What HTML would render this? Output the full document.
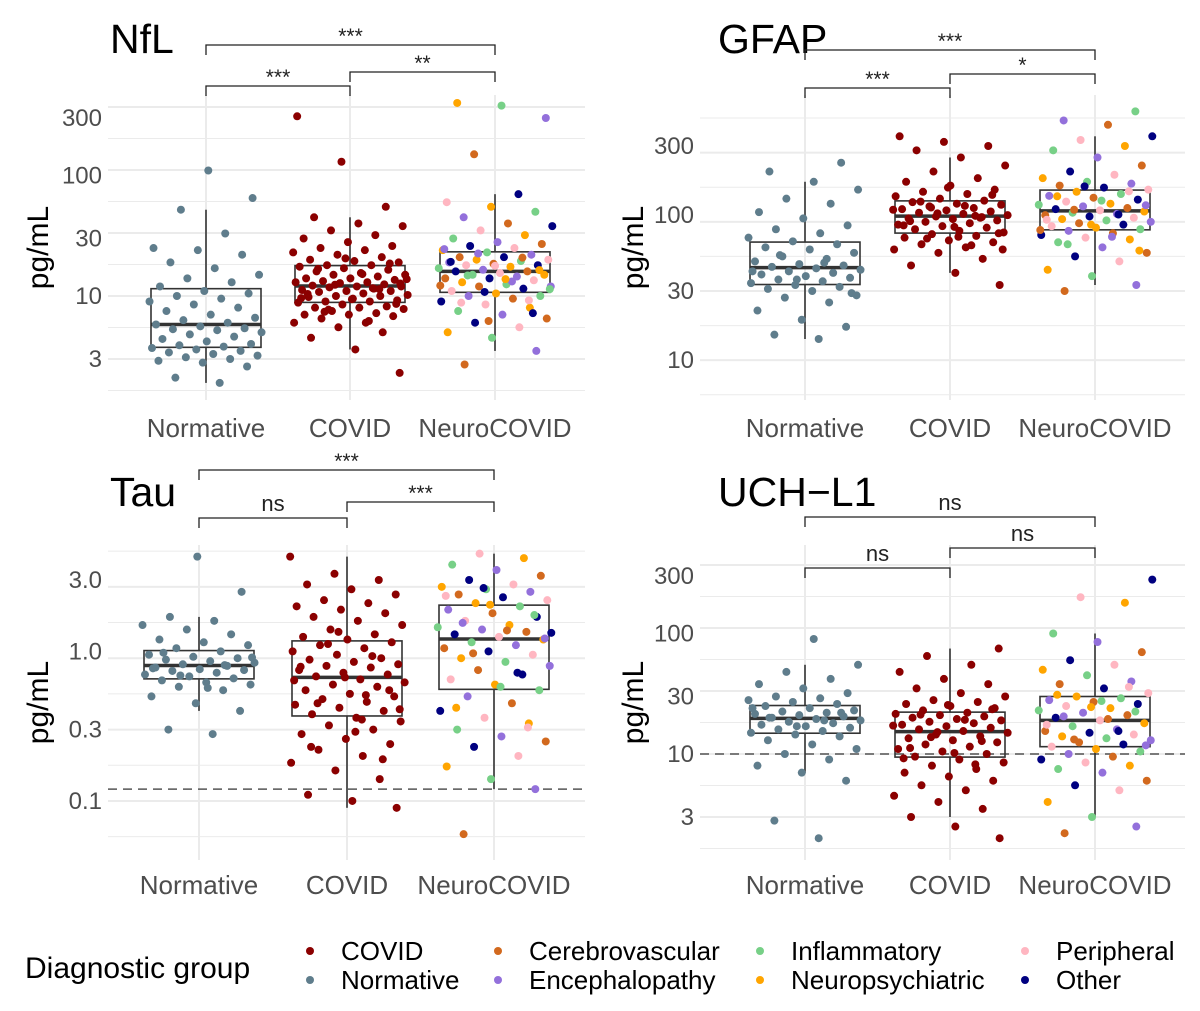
<!DOCTYPE html>
<html><head><meta charset="utf-8"><style>
body{margin:0;background:#fff}
svg{display:block;font-family:"Liberation Sans",Arial,sans-serif}
</style></head><body>
<svg id="chart" width="1200" height="1011" viewBox="0 0 1200 1011" xmlns="http://www.w3.org/2000/svg">
<g id="legend">
<text x="25" y="978" font-size="30" fill="#000">Diagnostic group</text>
</g>
</svg>
<script>
const categories = ['Normative','COVID','NeuroCOVID'];
const neuroGroups = ['Cerebrovascular','Encephalopathy','Inflammatory','Neuropsychiatric','Peripheral','Other'];
const legendEntries = ['COVID','Normative','Cerebrovascular','Encephalopathy','Inflammatory','Neuropsychiatric','Peripheral','Other'];
const colors = {COVID:'#8B0000',Normative:'#5F7D8C',Cerebrovascular:'#D2691E',Encephalopathy:'#9370DB',Inflammatory:'#77D087',Neuropsychiatric:'#FFA500',Peripheral:'#FFB6C1',Other:'#000080'};

const nflTicks = [3,10,30,100,300];
const nflTickLabels = ['3','10','30','100','300'];
const nflNormative = [1.9,2.1,2.6,2.8,2.9,3,3.1,3.2,3.3,3.4,3.5,3.6,3.7,3.8,3.9,4,4.2,4.4,4.6,4.8,5,5.2,5.3,5.4,5.6,5.8,6,6.3,6.6,7,7.5,8,8.5,9,9.5,10,10.5,11,12,13,14,15,17,19,22,24,25,33,52,65,110];
const nflCovid = [2.3,3.6,4.5,5,5.5,6,6,6.5,6.8,7,7,7.2,7.5,7.8,8,8,8.2,8.5,8.8,9,9,9.2,9.5,9.8,10,10,10.2,10.5,10.8,11,11,11.2,11.5,11.8,12,12,12.2,12.5,12.8,13,13,13.3,13.6,14,14,14.5,15,15,15.5,16,16.5,17,17.5,18,18,19,19.5,20,21,22,23,24,25,26,28,30,32,35,38,40,45,55,130,310,6.2,7.4,8.6,9.4,10.4,11.4,12.4,13.8,15.2,16.8,18.6,20.5,9.6,11.6,7.7,12.7];
const nflNeuro = [2.7,3.5,4.5,5,5.5,6,6.5,7,7.5,8,8.5,9,9.5,10,10,10.5,11,11.5,12,12,12.5,13,13.5,14,14,14.5,15,15,15.5,16,16,16.5,17,17.5,18,18,18.5,19,19.5,20,20,21,21,22,23,24,25,26,27,28,30,32,35,38,40,45,50,55,60,70,150,300,380,400,9.2,10.8,12.2,13.2,14.8,16.4,17.8,19.2,20.8,22.5,11.4,13.8,8.8,7.2,6.2,24.5];

const gfapTicks = [10,30,100,300];
const gfapTickLabels = ['10','30','100','300'];
const gfapNormative = [14,15,17,19,22,25,27,28,30,31,32,33,34,35,36,37,38,39,40,41,42,43,44,45,46,48,50,52,55,58,60,63,66,70,75,80,85,95,105,120,130,150,170,200,230,36,41,47,53,29];
const gfapCovid = [33,40,45,50,55,58,60,63,65,67,70,72,74,76,78,80,82,84,86,88,90,92,94,95,96,98,100,102,104,106,108,110,112,115,118,120,123,126,130,135,140,145,150,160,170,180,200,220,250,280,300,320,350,62,69,75,83,91,97,103,109,116,124,138,155,85,99,113,58,71];
const gfapNeuro = [30,33,38,42,48,52,55,60,65,68,70,73,75,78,80,82,84,86,88,90,92,94,96,98,100,102,104,106,108,110,112,115,118,120,124,128,132,136,140,145,150,155,160,165,170,180,190,200,220,250,280,300,330,350,420,450,520,86,93,101,109,117,126,135,146,158,79,71,63,57];

const tauTicks = [0.1,0.3,1,3];
const tauTickLabels = ['0.1','0.3','1.0','3.0'];
const tauNormative = [0.28,0.3,0.4,0.45,0.5,0.55,0.58,0.6,0.62,0.64,0.66,0.68,0.7,0.72,0.74,0.75,0.76,0.78,0.8,0.82,0.84,0.86,0.88,0.9,0.92,0.95,1,1.05,1.1,1.15,1.2,1.3,1.4,1.5,1.6,1.7,2.5,4.3,0.77,0.81,0.69,0.91,0.57,0.98];
const tauCovid = [0.09,0.1,0.11,0.14,0.16,0.18,0.2,0.22,0.24,0.26,0.28,0.3,0.32,0.34,0.36,0.38,0.4,0.42,0.44,0.46,0.48,0.5,0.52,0.55,0.58,0.6,0.62,0.65,0.68,0.7,0.72,0.75,0.78,0.8,0.82,0.85,0.88,0.9,0.95,1,1.05,1.1,1.15,1.2,1.25,1.3,1.4,1.5,1.6,1.7,1.8,1.9,2,2.1,2.2,2.4,2.6,2.8,3,3.3,4.3,0.35,0.45,0.55,0.67,0.79,0.93,1.12,0.41,0.29,0.23,0.19,1.35,0.64,0.51];
const tauNeuro = [0.06,0.12,0.14,0.17,0.2,0.23,0.25,0.27,0.3,0.33,0.36,0.4,0.45,0.5,0.55,0.6,0.65,0.7,0.75,0.8,0.85,0.9,0.95,1,1.05,1.1,1.15,1.2,1.25,1.3,1.35,1.4,1.45,1.5,1.6,1.7,1.8,1.9,2,2.1,2.2,2.3,2.4,2.5,2.6,2.7,2.8,3,3.2,3.5,3.8,4.2,4.5,1.33,1.38,1.55,1.75,2.05,2.35,0.72,0.97,1.22,0.58,0.42,0.31,2.65];

const uchTicks = [3,10,30,100,300];
const uchTickLabels = ['3','10','30','100','300'];
const uchNormative = [2,2.8,6,7,8,9,10,11,12,13,14,14.5,15,15.5,16,16.5,17,17.5,18,18.5,19,19.5,20,20.5,21,21.5,22,22.5,23,24,25,26,27,28,29,30,32,35,38,42,48,55,90,20,22,17,24,19];
const uchCovid = [2,2.5,3,3.5,4,4.5,5,5.5,6,6.5,7,7.5,8,8.5,9,9.5,10,10.5,11,11.5,12,12.5,13,13.5,14,14.5,15,15.5,16,16.5,17,17.5,18,18.5,19,19.5,20,20.5,21,21.5,22,23,24,25,26,27,28,30,32,35,38,42,48,55,65,75,10.2,11.2,12.8,15.2,17.2,19.2,21.2,23.5,25.5,9.2,8.2,13.8];
const uchNeuro = [2.2,2.5,3,4,5,5.5,6,7,7.5,8,8.5,9,9.5,10,10.5,11,11.5,12,12.5,13,13.5,14,14.5,15,15.5,16,17,18,19,20,21,22,23,24,25,26,27,28,29,30,32,35,38,40,45,50,55,60,70,85,100,180,200,280,19.5,20.5,22.5,24.5,17.5,15.5,13.2,11.8,27.5,31,36];

const nflSig = ['***','***','**'];
const gfapSig = ['***','***','*'];
const tauSig = ['***','ns','***'];
const uchSig = ['ns','ns','ns'];

const NS='http://www.w3.org/2000/svg';
const svg=document.getElementById('chart');
function mk(tag,attrs,parent){const e=document.createElementNS(NS,tag);for(const k in attrs)e.setAttribute(k,attrs[k]);(parent||svg).appendChild(e);return e;}

const panels=[
 {key:'nfl',title:'NfL',titleX:110,titleY:53,x0:108,x1:585,top:95,bottom:400,cx:[206,350,495],refV:300,refY:118,ppd:120.5,ticks:nflTicks,labels:nflTickLabels,data:[nflNormative,nflCovid,nflNeuro],sig:nflSig,br:[45,86,72],catY:437,ylabX:48,dash:null},
 {key:'gfap',title:'GFAP',titleX:718,titleY:53,x0:700,x1:1185,top:95,bottom:400,cx:[805,950,1095],refV:300,refY:146,ppd:145,ticks:gfapTicks,labels:gfapTickLabels,data:[gfapNormative,gfapCovid,gfapNeuro],sig:gfapSig,br:[50,88,74],catY:437,ylabX:643,dash:null},
 {key:'tau',title:'Tau',titleX:110,titleY:506,x0:108,x1:585,top:545,bottom:860,cx:[199,347,494],refV:3,refY:580,ppd:149.6,ticks:tauTicks,labels:tauTickLabels,data:[tauNormative,tauCovid,tauNeuro],sig:tauSig,br:[470,518,502],catY:894,ylabX:48,dash:0.12},
 {key:'uch',title:'UCH\u2212L1',titleX:718,titleY:506,x0:700,x1:1185,top:545,bottom:860,cx:[805,950,1095],refV:300,refY:576,ppd:120.5,ticks:uchTicks,labels:uchTickLabels,data:[uchNormative,uchCovid,uchNeuro],sig:uchSig,br:[517,568,548],catY:894,ylabX:643,dash:10}
];

function quant(a,p){const s=[...a].sort((x,y)=>x-y);const h=(s.length-1)*p;const l=Math.floor(h);return s[l]+(s[Math.min(l+1,s.length-1)]-s[l])*(h-l);}

panels.forEach(P=>{
 const yS=v=>P.refY-(Math.log10(v)-Math.log10(P.refV))*P.ppd;
 const g=mk('g',{});
 
 
 const tl=P.ticks.map(t=>yS(t));
 const step=(tl[0]-tl[1]);
 for(let i=-1;i<=P.ticks.length;i++){
   const base=tl[0]-i*step;
   [base, base-step/2].forEach((yy,j)=>{ if(yy>=P.top&&yy<=P.bottom){const l=mk('line',{x1:P.x0,x2:P.x1,y1:yy,y2:yy,stroke:'#ebebeb','stroke-width':j===0?2:1},g);}});
 }
 P.cx.forEach(c=>{const l=mk('line',{x1:c,x2:c,y1:P.top,y2:P.bottom,stroke:'#ebebeb','stroke-width':2},g);});
 P.ticks.forEach((t,i)=>{const tx=mk('text',{x:P.x0-6,y:yS(t)+8,'text-anchor':'end','font-size':24,fill:'#4d4d4d'},g);tx.textContent=P.labels[i];});
 categories.forEach((c,i)=>{const tx=mk('text',{x:P.cx[i],y:P.catY,'text-anchor':'middle','font-size':26,fill:'#4d4d4d'},g);tx.textContent=c;});
 const yl=mk('text',{x:P.ylabX,y:(P.top+P.bottom)/2,'text-anchor':'middle','font-size':30,fill:'#000',transform:`rotate(-90 ${P.ylabX} ${(P.top+P.bottom)/2})`},g);
 yl.textContent='pg/mL';
 
 
 const ti=mk('text',{x:P.titleX,y:P.titleY,'font-size':41,fill:'#000'},g);
 ti.textContent=P.title;
 
 
 if(P.dash){const d=mk('line',{x1:P.x0,x2:P.x1,y1:yS(P.dash),y2:yS(P.dash),stroke:'#555','stroke-width':1.5,'stroke-dasharray':'9,6'},g);}
 P.data.forEach((arr,k)=>{
   const q1=quant(arr,.25),md=quant(arr,.5),q3=quant(arr,.75);
   const lq1=Math.log10(q1),lq3=Math.log10(q3),iqr=lq3-lq1;
   const inside=arr.filter(v=>Math.log10(v)>=lq1-1.5*iqr&&Math.log10(v)<=lq3+1.5*iqr);
   const lo=Math.min(...inside),hi=Math.max(...inside);
   const c=P.cx[k],w=55;
   const bg=mk('g',{fill:'none',stroke:'#333','stroke-width':1.6},g);
   
   
   mk('line',{x1:c,x2:c,y1:yS(hi),y2:yS(q3)},bg);
   mk('line',{x1:c,x2:c,y1:yS(q1),y2:yS(lo)},bg);
   mk('rect',{x:c-w,y:yS(q3),width:2*w,height:yS(q1)-yS(q3)},bg);
   mk('line',{x1:c-w,x2:c+w,y1:yS(md),y2:yS(md),'stroke-width':3.5},bg);
 });
 P.data.forEach((arr,k)=>{
   arr.forEach((v,i)=>{
     const jit=(((i+1)*0.6180339887+k*0.31)%1)-0.5;
     let col= k===0?colors.Normative:k===1?colors.COVID:colors[neuroGroups[i%neuroGroups.length]];
     const pt=mk('circle',{cx:P.cx[k]+jit*116,cy:yS(v),r:4,fill:col},g);
     
     
   });
 });
 const pairs=[[0,2],[0,1],[1,2]];
 pairs.forEach((p,j)=>{
   const yy=P.br[j],a=P.cx[p[0]],b=P.cx[p[1]];
   const br=mk('path',{d:`M${a},${yy+10}V${yy}H${b}V${yy+10}`,fill:'none',stroke:'#222','stroke-width':1.3},g);
   
   
   const st=P.sig[j];
   const t=mk('text',{x:(a+b)/2,y:st==='ns'?yy-7:yy-2,'text-anchor':'middle','font-size':st==='ns'?22:21,fill:'#222'},g);
   t.textContent=st;
   
   
 });
});

const lg=document.getElementById('legend');
const colX=[310,498,760,1025],rowY=[951,980];
legendEntries.forEach((name,i)=>{
  const col=Math.floor(i/2),row=i%2;
  const eg=mk('g',{},lg);
  
  
  mk('circle',{cx:colX[col],cy:rowY[row],r:4,fill:colors[name]},eg);
  const t=mk('text',{x:colX[col]+31,y:rowY[row]+9,'font-size':26,fill:'#000'},eg);
  t.textContent=name;
});
</script>
</body></html>
